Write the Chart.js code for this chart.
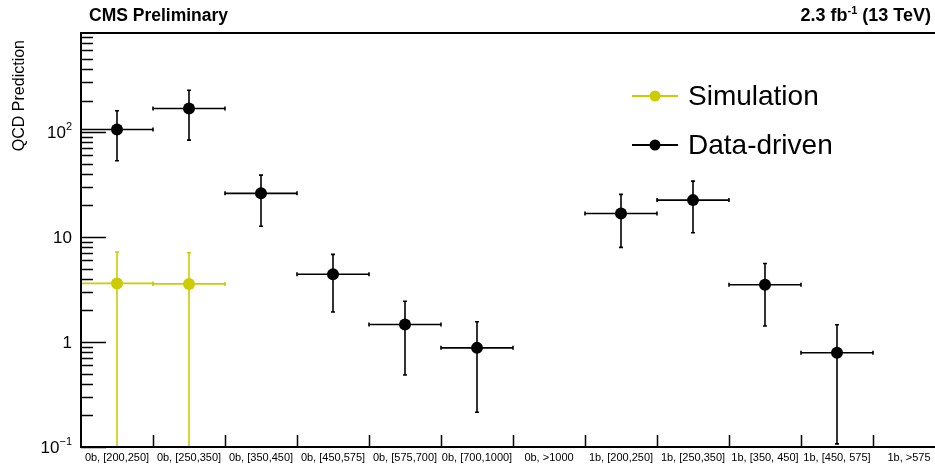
<!DOCTYPE html>
<html>
<head>
<meta charset="utf-8">
<title>QCD Prediction</title>
<script src="https://cdn.jsdelivr.net/npm/chart.js@4.4.0/dist/chart.umd.min.js"></script>
<style>
html,body{margin:0;padding:0;background:#fff;overflow:hidden;}
</style>
</head>
<body>
<canvas id="qcdChart" width="960" height="465"></canvas>
<script>
// bins
var bins = ["0b, [200,250]", "0b, [250,350]", "0b, [350,450]", "0b, [450,575]", "0b, [575,700]", "0b, [700,1000]",
            "0b, >1000", "1b, [200,250]", "1b, [250,350]", "1b, [350, 450]", "1b, [450, 575]", "1b, >575"];

// simulation
var simVal  = [3.62, 3.58, null, null, null, null, null, null, null, null, null, null];
var simUp   = [7.2, 7.1, null, null, null, null, null, null, null, null, null, null];
var simDown = [0, 0, null, null, null, null, null, null, null, null, null, null];

// data-driven
var ddVal  = [106, 168, 26.1, 4.42, 1.47, 0.88, null, 16.8, 22.5, 3.52, 0.79, null];
var ddUp   = [160, 251, 38.9, 6.84, 2.45, 1.56, null, 25.5, 34.1, 5.61, 1.46, null];
var ddDown = [53.3, 84, 12.7, 1.93, 0.485, 0.214, null, 7.98, 11.0, 1.42, 0.107, null];

// y axis labels (decades)
var yLabelVals = [0.1, 1, 10, 100];
var yLabelBase = ["10", "1", "10", "10"];
var yLabelSup  = ["\u22121", "", "", "2"];

var yMin = 0.1, yMax = 880;

var FONT = "'Liberation Sans', Arial, Helvetica, sans-serif";
var simColor = "#cccc00";
var ddColor = "#000000";

var rootPlugin = {
	id: 'rootStyle',
	beforeDatasetsDraw: function(chart){
		var ctx = chart.ctx, ca = chart.chartArea;
		var x = chart.scales.x, y = chart.scales.y;
		var half = (x.getPixelForValue(1) - x.getPixelForValue(0)) / 2;
		ctx.save();
		ctx.beginPath();
		ctx.rect(ca.left, ca.top, ca.right - ca.left, ca.bottom - ca.top);
		ctx.clip();
		chart.data.datasets.forEach(function(ds){
			ctx.strokeStyle = ds.borderColor;
			ctx.lineWidth = 1.6;
			for(var i=0;i<ds.data.length;i++){
				if(ds.data[i]==null) continue;
				var px = x.getPixelForValue(i);
				var py = y.getPixelForValue(ds.data[i]);
				var pu = y.getPixelForValue(ds.errUp[i]);
				var pd = ds.errDown[i] > 0 ? y.getPixelForValue(ds.errDown[i]) : ca.bottom + 5;
				ctx.beginPath();
				ctx.moveTo(px, pu); ctx.lineTo(px, pd);
				ctx.moveTo(px - half, py); ctx.lineTo(px + half, py);
				// caps
				ctx.moveTo(px - 2, pu); ctx.lineTo(px + 2, pu);
				ctx.moveTo(px - 2, pd); ctx.lineTo(px + 2, pd);
				ctx.moveTo(px - half, py - 2); ctx.lineTo(px - half, py + 2);
				ctx.moveTo(px + half, py - 2); ctx.lineTo(px + half, py + 2);
				ctx.stroke();
			}
		});
		ctx.restore();
	},
	afterDraw: function(chart){
		var ctx = chart.ctx, ca = chart.chartArea;
		var x = chart.scales.x, y = chart.scales.y;
		ctx.save();
		ctx.strokeStyle = "#000";
		ctx.fillStyle = "#000";

		// frame
		ctx.lineWidth = 2;
		ctx.strokeRect(ca.left, ca.top, ca.right - ca.left, ca.bottom - ca.top);

		// y ticks (log)
		ctx.lineWidth = 1.5;
		ctx.beginPath();
		for(var e=-1;e<=2;e++){
			for(var m=1;m<=9;m++){
				var v = m * Math.pow(10, e);
				if(v < yMin || v > yMax) continue;
				var py = Math.round(y.getPixelForValue(v)) + 0.5;
				var len = (m==1) ? 25 : 12;
				ctx.moveTo(ca.left, py); ctx.lineTo(ca.left + len, py);
			}
		}
		ctx.stroke();

		// x ticks at bin edges
		var half = (x.getPixelForValue(1) - x.getPixelForValue(0)) / 2;
		ctx.beginPath();
		for(var i=0;i<bins.length;i++){
			var ex = Math.round(x.getPixelForValue(i) + half) + 0.5;
			ctx.moveTo(ex, ca.bottom); ctx.lineTo(ex, ca.bottom - 12);
		}
		ctx.stroke();

		// x labels
		ctx.font = "11px " + FONT;
		ctx.textAlign = "center";
		ctx.textBaseline = "middle";
		for(var i=0;i<bins.length;i++){
			ctx.fillText(bins[i], x.getPixelForValue(i), 458);
		}

		// y labels
		ctx.textBaseline = "middle";
		ctx.textAlign = "left";
		for(var k=0;k<yLabelVals.length;k++){
			var py = y.getPixelForValue(yLabelVals[k]);
			ctx.font = "11px " + FONT;
			var ws = yLabelSup[k] ? ctx.measureText(yLabelSup[k]).width : 0;
			ctx.font = "17px " + FONT;
			var wb = ctx.measureText(yLabelBase[k]).width;
			var x0 = 72 - ws - wb;
			ctx.fillText(yLabelBase[k], x0, py + 1);
			if(yLabelSup[k]){
				ctx.font = "11px " + FONT;
				ctx.fillText(yLabelSup[k], x0 + wb, py - 5);
			}
		}

		// y title
		ctx.save();
		ctx.translate(20, 40);
		ctx.rotate(-Math.PI/2);
		ctx.font = "16px " + FONT;
		ctx.textAlign = "right";
		ctx.textBaseline = "middle";
		ctx.fillText("QCD Prediction", 0, 0);
		ctx.restore();

		// header
		ctx.font = "bold 17.5px " + FONT;
		ctx.textAlign = "left";
		ctx.textBaseline = "middle";
		ctx.fillText("CMS Preliminary", 89, 16);

		var p1 = "2.3 fb", sup = "-1", p2 = " (13 TeV)";
		ctx.font = "bold 18px " + FONT;
		var w1 = ctx.measureText(p1).width, w2 = ctx.measureText(p2).width;
		ctx.font = "bold 11px " + FONT;
		var wsup = ctx.measureText(sup).width;
		var rx = 931 - w1 - w2 - wsup;
		ctx.font = "bold 18px " + FONT;
		ctx.fillText(p1, rx, 16);
		ctx.fillText(p2, rx + w1 + wsup, 16);
		ctx.font = "bold 11px " + FONT;
		ctx.fillText(sup, rx + w1, 11);

		// legend
		var items = chart.data.datasets;
		var ly = [96, 145];
		for(var j=0;j<items.length;j++){
			ctx.strokeStyle = items[j].borderColor;
			ctx.fillStyle = items[j].backgroundColor;
			ctx.lineWidth = 2;
			ctx.beginPath();
			ctx.moveTo(632, ly[j]); ctx.lineTo(678, ly[j]);
			ctx.stroke();
			ctx.beginPath();
			ctx.arc(655, ly[j], 5.5, 0, Math.PI*2);
			ctx.fill();
			ctx.fillStyle = "#000";
			ctx.font = "28px " + FONT;
			ctx.textAlign = "left";
			ctx.textBaseline = "middle";
			ctx.fillText(items[j].label, 688, ly[j] + 1);
		}
		ctx.restore();
	}
};

var ctx = document.getElementById("qcdChart").getContext("2d");
var chart = new Chart(ctx, {
	type: 'line',
	data: {
		labels: bins,
		datasets: [
			{
				label: "Simulation",
				data: simVal,
				errUp: simUp,
				errDown: simDown,
				borderColor: simColor,
				backgroundColor: simColor,
				pointBackgroundColor: simColor,
				pointBorderWidth: 0,
				pointRadius: 6,
				showLine: false
			},
			{
				label: "Data-driven",
				data: ddVal,
				errUp: ddUp,
				errDown: ddDown,
				borderColor: ddColor,
				backgroundColor: ddColor,
				pointBackgroundColor: ddColor,
				pointBorderWidth: 0,
				pointRadius: 6,
				showLine: false
			}
		]
	},
	options: {
		responsive: false,
		animation: false,
		devicePixelRatio: 1,
		layout: { padding: { left: 81, top: 33, right: 15, bottom: 18 } },
		plugins: {
			legend: { display: false },
			tooltip: { enabled: false },
			title: { display: false }
		},
		scales: {
			x: { type: 'category', offset: true, display: false },
			y: { type: 'logarithmic', min: yMin, max: yMax, display: false }
		}
	},
	plugins: [rootPlugin]
});
</script>
</body>
</html>
